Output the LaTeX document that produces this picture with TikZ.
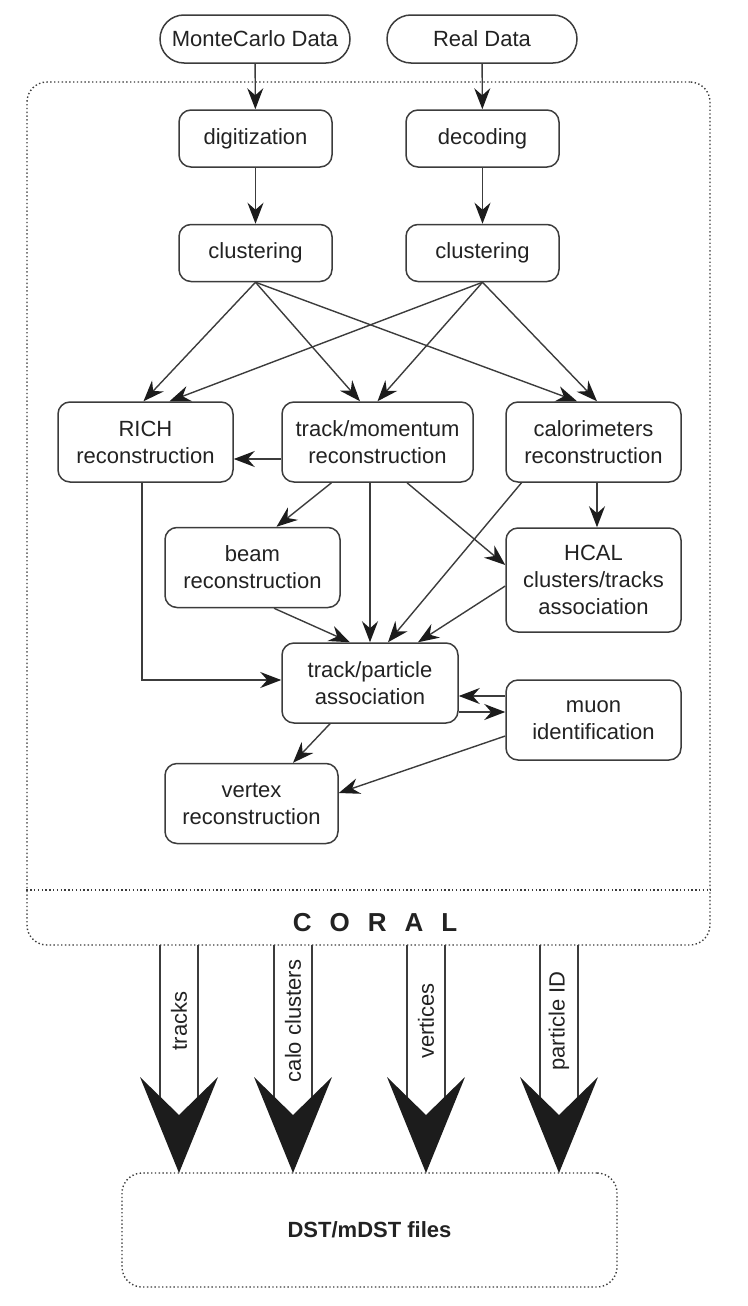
\documentclass[tikz,border=0pt]{standalone}
\usepackage{fontspec}
\setmainfont{Liberation Sans}
\usetikzlibrary{arrows.meta}
\definecolor{linegray}{HTML}{3C3C3C}
\definecolor{textgray}{HTML}{222222}
\definecolor{headblack}{HTML}{1C1C1C}
\begin{document}
\begin{tikzpicture}[x=0.5pt, y=-0.5pt,
	procbox/.style={draw=linegray, line width=0.75pt, rounded corners=6pt, align=center, inner sep=0pt, text=textgray, font=\fontsize{11}{13.5}\selectfont, minimum width=87.5pt, minimum height=40pt},
	pillbox/.style={procbox, rounded corners=12pt, minimum width=95pt, minimum height=24pt},
	smallbox/.style={procbox, minimum width=76.5pt, minimum height=28.5pt},
	dotbox/.style={draw=linegray, line width=0.7pt, dash pattern=on 0.7pt off 1.2pt, rounded corners=10pt, inner sep=0pt},
	arr/.style={draw=linegray, line width=0.7pt, -{Stealth[length=10.5pt, width=8pt, inset=3.5pt, color=headblack]}}]
\useasboundingbox (0,0) rectangle (748,1306);

\node[dotbox, minimum width=341.5pt, minimum height=431.5pt] (coral) at (368.5,513.5) {};
\coordinate (sep) at (0,890);
\draw[dotbox] (coral.west |- sep) -- (coral.east |- sep);
\node[text=textgray, font=\bfseries\fontsize{13}{15}\selectfont] (corallbl) at (375,923) {C\hspace{9pt}O\hspace{9pt}R\hspace{9pt}A\hspace{9pt}L};

\node[pillbox] (mc) at (255,39) {MonteCarlo Data};
\node[pillbox] (real) at (482,39) {Real Data};
\node[smallbox] (digi) at (255.5,138.5) {digitization};
\node[smallbox] (deco) at (482.5,138.5) {decoding};
\node[smallbox] (clL) at (255.5,253) {clustering};
\node[smallbox] (clR) at (482.5,253) {clustering};

\node[procbox] (rich) at (145.5,442) {RICH\\reconstruction};
\node[procbox, minimum width=95.5pt] (trk) at (377.5,442) {track/momentum\\reconstruction};
\node[procbox] (calo) at (593.5,442) {calorimeters\\reconstruction};
\node[procbox] (beam) at (252.5,567.5) {beam\\reconstruction};
\node[procbox, minimum height=52pt] (hcal) at (593.5,580) {HCAL\\clusters/tracks\\association};
\node[procbox, minimum width=88pt] (tpa) at (370,683) {track/particle\\association};
\node[procbox] (muon) at (593.5,720) {muon\\identification};
\node[procbox, minimum width=86.5pt] (vtx) at (251.5,803.5) {vertex\\reconstruction};

\draw[arr] (mc) -- (digi);
\draw[arr] (real) -- (deco);
\draw[arr] (digi) -- (clL);
\draw[arr] (deco) -- (clR);

\draw[arr] (clL.south) -- ([xshift=-1pt]rich.north);
\draw[arr] (clR.south) -- ([xshift=12pt]rich.north);
\draw[arr] (clL.south) -- ([xshift=-8.75pt]trk.north);
\draw[arr] (clR.south) -- (trk.north);
\draw[arr] (clL.south) -- ([xshift=-8.25pt]calo.north);
\draw[arr] (clR.south) -- ([xshift=1.75pt]calo.north);

\draw[arr] ([yshift=-8.5pt]trk.west) -- ([yshift=-8.5pt]rich.east);
\draw[arr] ([xshift=-23pt]trk.south) -- ([xshift=12pt]beam.north);
\draw[arr] ([xshift=-3.75pt]trk.south) -- (tpa.north);
\draw[arr] ([xshift=14.75pt]trk.south) -- ([yshift=7.5pt]hcal.west);
\draw[arr] ([xshift=1.75pt]calo.south) -- ([xshift=1.75pt]hcal.north);
\draw[arr] ([xshift=-36pt]calo.south) -- ([xshift=9pt]tpa.north);
\draw[arr] ([yshift=-3pt]hcal.west) -- ([xshift=24pt]tpa.north);
\draw[arr] ([xshift=10.75pt]beam.south) -- ([xshift=-10pt]tpa.north);
\draw[arr] ([xshift=-1.75pt]rich.south) |- ([yshift=1.5pt]tpa.west);
\draw[arr] ([yshift=12pt]muon.west) -- ([yshift=-6.5pt]tpa.east);
\draw[arr] ([yshift=-14.5pt]tpa.east) -- ([yshift=4pt]muon.west);
\draw[arr] ([xshift=-20pt]tpa.south) -- ([xshift=20.75pt]vtx.north);
\draw[arr] ([yshift=-8pt]muon.west) -- ([yshift=5.25pt]vtx.east);

\node[dotbox, minimum width=247.5pt, minimum height=57pt, text=textgray, font=\bfseries\fontsize{11}{13}\selectfont] (dst) at (369.5,1230) {DST/mDST files};

\foreach \cx/\lbl in {179/tracks, 293/calo clusters, 426/vertices, 559/particle ID} {
	\draw[draw=linegray, line width=0.7pt] (\cx-19,945) -- (\cx-19,1097) (\cx+19,945) -- (\cx+19,1097);
	\fill[headblack] (\cx-39,1077) -- (\cx,1173) -- (\cx+39,1077) -- (\cx,1115) -- cycle;
	\node[rotate=90, text=textgray, font=\fontsize{11}{13}\selectfont] (out\cx) at (\cx,1021) {\lbl};
}
\end{tikzpicture}
\end{document}
